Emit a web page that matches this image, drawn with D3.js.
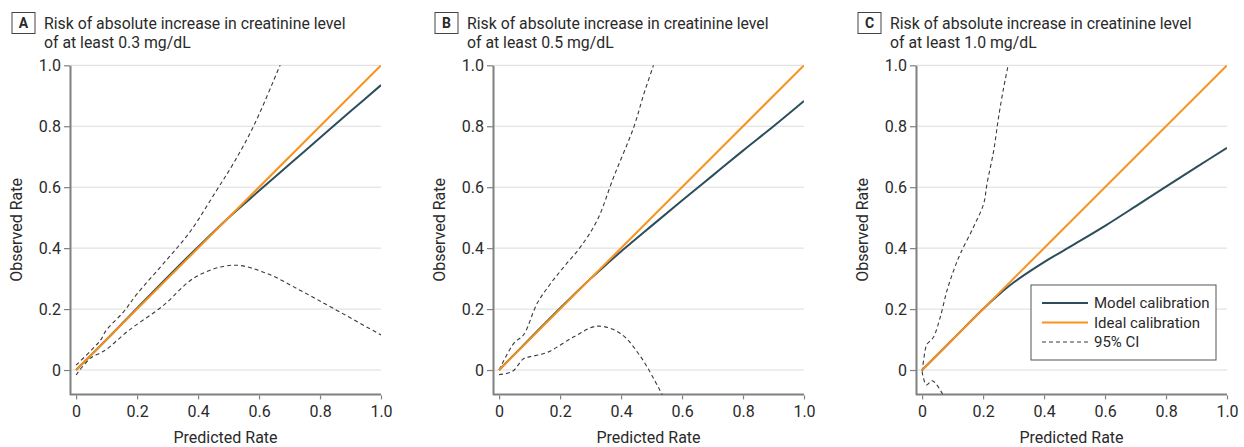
<!DOCTYPE html>
<html>
<head>
<meta charset="utf-8">
<script src="https://cdn.jsdelivr.net/npm/d3@7"></script>
<style>
  body { margin: 0; background: #fff; }
  svg { display: block; font-family: Roboto, "Noto Sans", sans-serif; }
</style>
</head>
<body>
<div id="chart"></div>
<script>
// ---- data ----
const panelLetters = ["A", "B", "C"];
const titleLine1 = ["Risk of absolute increase in creatinine level",
                    "Risk of absolute increase in creatinine level",
                    "Risk of absolute increase in creatinine level"];
const titleLine2 = ["of at least 0.3 mg/dL", "of at least 0.5 mg/dL", "of at least 1.0 mg/dL"];

const xTicks = [0, 0.2, 0.4, 0.6, 0.8, 1.0];
const yTicks = [0, 0.2, 0.4, 0.6, 0.8, 1.0];
const tickLabels = ["0", "0.2", "0.4", "0.6", "0.8", "1.0"];

const idealLine = [[0, 0], [1, 1]];

// Panel A: >= 0.3 mg/dL
const modelA = [[0,0],[0.1,0.1],[0.2,0.203],[0.3,0.305],[0.4,0.404],[0.5,0.5],[0.6,0.588],
                [0.7,0.675],[0.8,0.762],[0.9,0.849],[1.0,0.935]];
const upperA = [[0,0.016],[0.05,0.065],[0.08,0.098],[0.1,0.132],[0.155,0.19],[0.2,0.25],[0.3,0.365],
                [0.374,0.454],[0.461,0.59],[0.516,0.678],[0.581,0.798],[0.669,1.0],[0.69,1.05]];
const lowerA = [[0,-0.016],[0.046,0.038],[0.08,0.056],[0.1,0.068],[0.174,0.131],[0.284,0.21],
                [0.393,0.306],[0.516,0.344],[0.625,0.317],[0.734,0.262],[0.844,0.202],[1.0,0.115]];

// Panel B: >= 0.5 mg/dL
const modelB = [[0,0],[0.1,0.102],[0.2,0.203],[0.3,0.3],[0.35,0.345],[0.4,0.389],[0.5,0.473],
                [0.6,0.556],[0.7,0.638],[0.8,0.72],[0.9,0.8],[1.0,0.883]];
const upperB = [[0,0],[0.05,0.09],[0.08,0.115],[0.125,0.219],[0.169,0.284],[0.213,0.339],[0.267,0.404],
                [0.322,0.492],[0.376,0.634],[0.442,0.798],[0.475,0.907],[0.506,1.0],[0.52,1.05]];
const lowerB = [[0,-0.015],[0.043,-0.005],[0.081,0.038],[0.103,0.044],[0.158,0.058],[0.245,0.109],
                [0.322,0.144],[0.398,0.12],[0.464,0.044],[0.524,-0.06],[0.545,-0.1]];

// Panel C: >= 1.0 mg/dL
const modelC = [[0,0],[0.1,0.1],[0.2,0.2],[0.25,0.246],[0.3,0.287],[0.4,0.354],[0.5,0.413],
                [0.6,0.473],[0.7,0.537],[0.8,0.602],[0.9,0.666],[1.0,0.729]];
const upperC = [[0,-0.005],[0.011,0.07],[0.016,0.085],[0.027,0.096],[0.038,0.109],[0.06,0.175],
                [0.082,0.262],[0.104,0.328],[0.126,0.383],[0.169,0.47],[0.202,0.546],[0.213,0.612],
                [0.235,0.721],[0.251,0.831],[0.268,0.929],[0.282,1.0],[0.29,1.05]];
const lowerC = [[0,-0.005],[0.014,-0.049],[0.033,-0.035],[0.066,-0.077],[0.075,-0.1]];

const models = [modelA, modelB, modelC];
const uppers = [upperA, upperB, upperC];
const lowers = [lowerA, lowerB, lowerC];

const legendLabels = ["Model calibration", "Ideal calibration", "95% CI"];

// ---- layout / style ----
const width = 1244, height = 447;
const panelLeft = [70, 493, 916];   // x of the y-axis line per panel
const plotW = 311;
const plotTop = 65.3, plotBottom = 394.4;
const modelColor = "#2c4e5c";
const idealColor = "#f7931e";
const ciColor = "#3a3a3a";
const axisColor = "#808080";
const gridColor = "#dcdcdc";
const textColor = "#2a2a2a";

const svg = d3.select("#chart").append("svg")
    .attr("width", width)
    .attr("height", height);

panelLetters.forEach((letter, i) => {
    let x0 = panelLeft[i];

    let x = d3.scaleLinear().domain([-0.02, 1.0]).range([x0, x0 + plotW]);
    let y = d3.scaleLinear().domain([-0.08, 1.0]).range([plotBottom, plotTop]);

    let g = svg.append("g");

    // clip region = plot area
    let clipId = "clip" + letter;
    svg.append("clipPath").attr("id", clipId)
        .append("rect")
        .attr("x", x(-0.02))
        .attr("y", y(1.0))
        .attr("width", x(1.0) - x(-0.02))
        .attr("height", y(-0.08) - y(1.0));

    // title box + letter
    let boxX = x0 - 58;
    g.append("rect")
        .attr("x", boxX).attr("y", 12.5)
        .attr("width", 23).attr("height", 21)
        .attr("fill", "#fff")
        .attr("stroke", "#444")
        .attr("stroke-width", 1);
    g.append("text")
        .attr("x", boxX + 11.5).attr("y", 28)
        .attr("text-anchor", "middle")
        .style("font-size", "14px")
        .style("font-weight", "bold")
        .attr("fill", textColor)
        .text(letter);

    g.append("text")
        .attr("x", boxX + 32).attr("y", 29)
        .style("font-size", "15.8px")
        .attr("fill", textColor)
        .text(titleLine1[i]);
    g.append("text")
        .attr("x", boxX + 32).attr("y", 48)
        .style("font-size", "15.8px")
        .attr("fill", textColor)
        .text(titleLine2[i]);

    // gridlines
    g.selectAll(".grid")
        .data(yTicks)
        .enter()
        .append("line")
        .attr("x1", x(-0.02))
        .attr("x2", x(1.0))
        .attr("y1", d => y(d))
        .attr("y2", d => y(d))
        .attr("stroke", gridColor)
        .attr("stroke-width", 1);

    // y axis
    let yAxis = d3.axisLeft(y)
        .tickValues(yTicks)
        .tickFormat((d, j) => tickLabels[j])
        .tickSize(6)
        .tickSizeOuter(0)
        .tickPadding(3);
    let yg = g.append("g")
        .attr("transform", `translate(${x0},0)`)
        .call(yAxis);

    // x axis
    let xAxis = d3.axisBottom(x)
        .tickValues(xTicks)
        .tickFormat((d, j) => tickLabels[j])
        .tickSize(5)
        .tickSizeOuter(5)
        .tickPadding(6);
    let xg = g.append("g")
        .attr("transform", `translate(0,${plotBottom})`)
        .call(xAxis);

    [yg, xg].forEach(ax => {
        ax.select(".domain").attr("stroke", axisColor).attr("stroke-width", 2);
        ax.selectAll(".tick line").attr("stroke", axisColor).attr("stroke-width", 1.2);
        ax.selectAll(".tick text")
            .attr("fill", textColor)
            .style("font-size", "16px")
            .style("font-family", "Roboto, 'Noto Sans', sans-serif");
    });
    xg.select(".domain").attr("d", `M${x0},0H${x(1.0)}`);
    xg.selectAll(".tick line").attr("y1", 1);

    // axis titles
    g.append("text")
        .attr("transform", `translate(${x0 - 48},${(plotTop + plotBottom) / 2}) rotate(-90)`)
        .attr("text-anchor", "middle")
        .style("font-size", "16px")
        .attr("fill", textColor)
        .text("Observed Rate");
    g.append("text")
        .attr("x", (x0 + x(1.0)) / 2)
        .attr("y", 443)
        .attr("text-anchor", "middle")
        .style("font-size", "16px")
        .attr("fill", textColor)
        .text("Predicted Rate");

    // curves
    let line = d3.line()
        .x(d => x(d[0]))
        .y(d => y(d[1]))
        .curve(d3.curveCatmullRom.alpha(0.5));

    let plot = g.append("g").attr("clip-path", `url(#${clipId})`);

    [uppers[i], lowers[i]].forEach(ci => {
        plot.append("path")
            .datum(ci)
            .attr("d", line)
            .attr("fill", "none")
            .attr("stroke", ciColor)
            .attr("stroke-width", 1.1)
            .attr("stroke-dasharray", "4,3");
    });

    plot.append("path")
        .datum(models[i])
        .attr("d", line)
        .attr("fill", "none")
        .attr("stroke", modelColor)
        .attr("stroke-width", 2);

    plot.append("path")
        .datum(idealLine)
        .attr("d", line)
        .attr("fill", "none")
        .attr("stroke", idealColor)
        .attr("stroke-width", 2);

    // legend in panel C
    if (i === 2) {
        let lg = g.append("g").attr("transform", "translate(1031,285)");
        lg.append("rect")
            .attr("width", 185).attr("height", 75)
            .attr("fill", "#fff")
            .attr("stroke", "#555")
            .attr("stroke-width", 1);
        let styles = [
            { color: modelColor, w: 2, dash: null },
            { color: idealColor, w: 2, dash: null },
            { color: ciColor, w: 1.1, dash: "4,3" }
        ];
        legendLabels.forEach((lab, j) => {
            let yy = 18 + j * 19.5;
            lg.append("line")
                .attr("x1", 11).attr("x2", 57)
                .attr("y1", yy).attr("y2", yy)
                .attr("stroke", styles[j].color)
                .attr("stroke-width", styles[j].w)
                .attr("stroke-dasharray", styles[j].dash);
            lg.append("text")
                .attr("x", 63).attr("y", yy + 5)
                .style("font-size", "15px")
                .attr("fill", textColor)
                .text(lab);
        });
    }
});
</script>
</body>
</html>
